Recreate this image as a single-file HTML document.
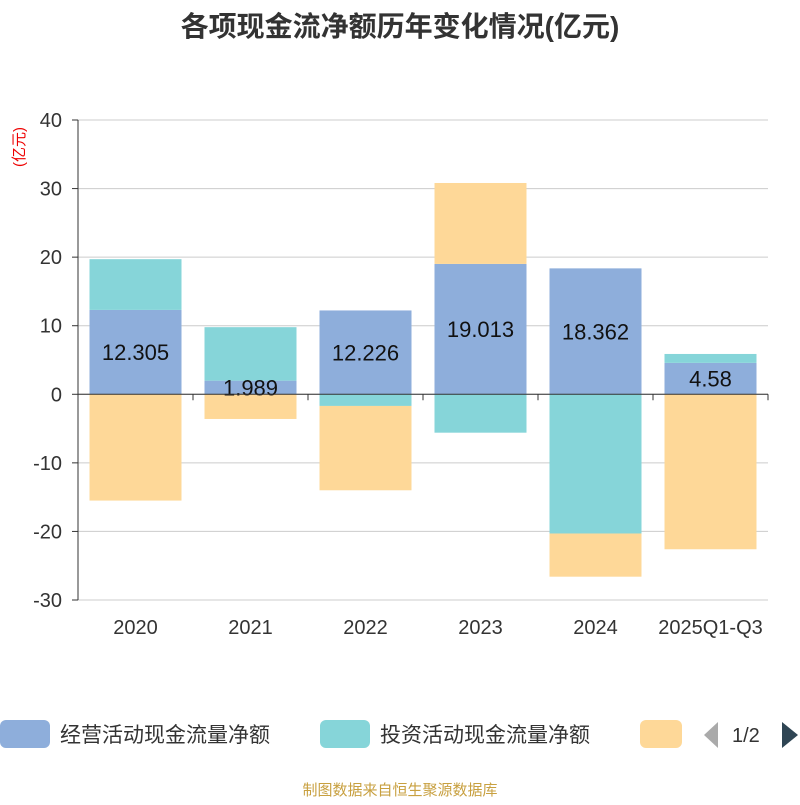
<!DOCTYPE html>
<html><head><meta charset="utf-8"><style>
body{margin:0;background:#fff;font-family:"Liberation Sans","Noto Sans CJK SC",sans-serif}
svg text{font-family:"Liberation Sans","Noto Sans CJK SC",sans-serif}
</style></head><body>
<svg id="c" width="800" height="800">
<text x="400" y="36" text-anchor="middle" font-size="28" font-weight="bold" fill="#333">各项现金流净额历年变化情况(亿元)</text>
<text x="20" y="147" font-size="15" fill="#e00" dominant-baseline="middle" transform="rotate(-90 20 147)" text-anchor="middle">(亿元)</text>
<g id="grid"></g><g id="bars"></g><g id="axes"></g>
<g>
<rect x="0" y="720" width="50" height="28" rx="6" fill="#8eaedb"/>
<text x="60" y="742" font-size="21" fill="#333">经营活动现金流量净额</text>
<rect x="320" y="720" width="50" height="28" rx="6" fill="#86d5d9"/>
<text x="380" y="742" font-size="21" fill="#333">投资活动现金流量净额</text>
<rect x="640" y="720" width="42" height="28" rx="6" fill="#fed898"/>
<polygon points="718,722 718,748 704,735" fill="#aaa"/>
<text x="732" y="742" font-size="20" fill="#333">1/2</text>
<polygon points="782,722 782,748 798,735" fill="#2f4554"/>
</g>
<text x="400" y="795" text-anchor="middle" font-size="15" fill="#c8a040">制图数据来自恒生聚源数据库</text>
</svg>
<script>
const categories=["2020","2021","2022","2023","2024","2025Q1-Q3"];
const operating=[12.305,1.989,12.226,19.013,18.362,4.58];
const investing=[7.4,7.8,-1.7,-5.6,-20.3,1.3];
const financing=[-15.5,-3.6,-12.3,11.8,-6.3,-22.6];
const yTicks=[40,30,20,10,0,-10,-20,-30];
const colors=["#8eaedb","#86d5d9","#fed898"];
const NS="http://www.w3.org/2000/svg";
const L=78,R=768,T=120,B=600,ymin=-30,ymax=40;
const y=v=>B-(v-ymin)/(ymax-ymin)*(B-T);
const band=(R-L)/categories.length;
const xc=i=>L+band*(i+0.5);
function mk(tag,attrs,parent){const e=document.createElementNS(NS,tag);for(const k in attrs)e.setAttribute(k,attrs[k]);document.getElementById(parent).appendChild(e);return e;}
yTicks.forEach(t=>{
 const l=mk("line",{x1:L,x2:R,y1:y(t),y2:y(t),stroke:"#ccc","stroke-width":1},"grid");
 
 
 const tx=mk("text",{x:L-16,y:y(t)+7,"text-anchor":"end","font-size":20,fill:"#333"},"axes");
 tx.textContent=t;
 
 
 const tk=mk("line",{x1:L-6,x2:L,y1:y(t),y2:y(t),stroke:"#333"},"axes");
 
 
});
const ya=mk("line",{x1:L,x2:L,y1:T,y2:B,stroke:"#333"},"axes");


const xa=mk("line",{x1:L,x2:R,y1:y(0),y2:y(0),stroke:"#333"},"axes");


for(let i=0;i<=categories.length;i++){
 const tk=mk("line",{x1:L+band*i,x2:L+band*i,y1:y(0),y2:y(0)+6,stroke:"#333"},"axes");
 
 
}
const bw=92;
categories.forEach((c,i)=>{
 let pos=0,neg=0;
 [operating,investing,financing].forEach((s,k)=>{
  const v=s[i];let a,b;
  if(v>=0){a=pos;b=pos+v;pos=b;}else{a=neg;b=neg+v;neg=b;}
  const r=mk("rect",{x:xc(i)-bw/2,y:Math.min(y(a),y(b)),width:bw,height:Math.abs(y(a)-y(b)),fill:colors[k]},"bars");
  
  
 });
 const lb=mk("text",{x:xc(i),y:y(operating[i]/2)+8,"text-anchor":"middle","font-size":22,fill:"#111"},"bars");
 lb.textContent=operating[i];
 
 
 const xt=mk("text",{x:xc(i),y:634,"text-anchor":"middle","font-size":20,fill:"#333"},"axes");
 xt.textContent=c;
 
 
});
</script>
</body></html>
